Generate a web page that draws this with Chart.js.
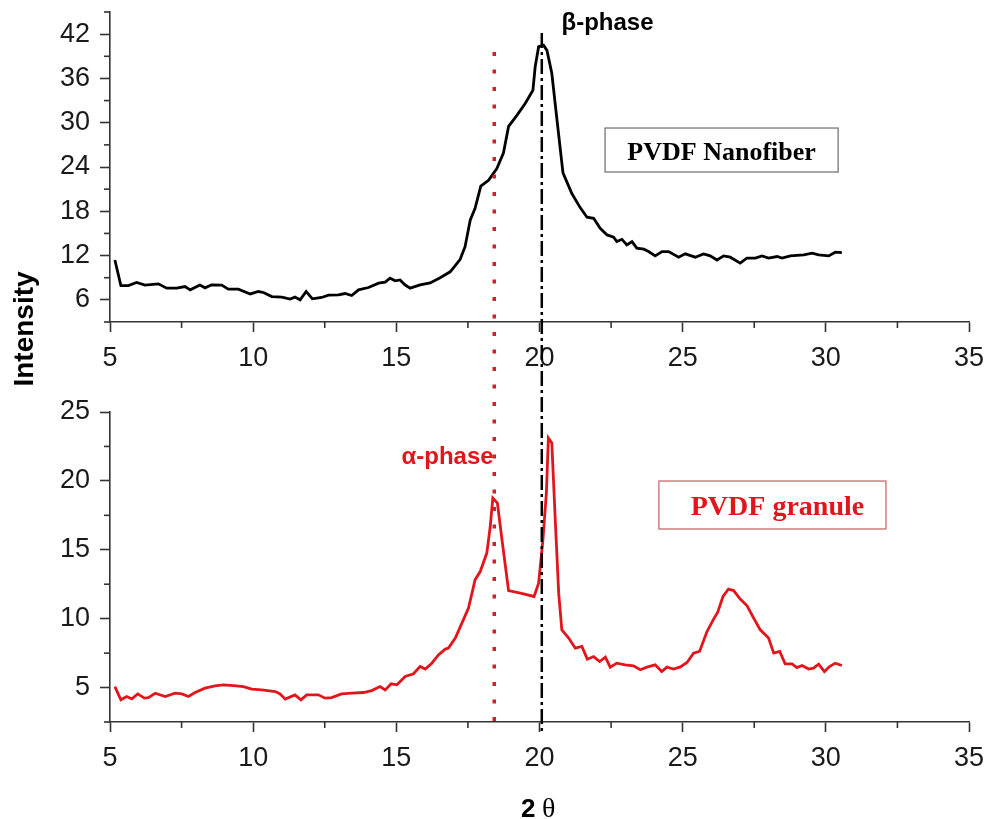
<!DOCTYPE html>
<html><head><meta charset="utf-8">
<script src="https://cdn.jsdelivr.net/npm/chart.js@4.4.1/dist/chart.umd.min.js"></script>
<style>
html,body{margin:0;padding:0;background:#fff;}
#wrap{position:relative;width:988px;height:819px;overflow:hidden;}
canvas{position:absolute;left:0;}
</style>
</head><body>
<div id="wrap">
<canvas id="topChart" width="988" height="400" style="top:0px"></canvas>
<canvas id="botChart" width="988" height="419" style="top:400px"></canvas>
</div>
<script>
// ---------- data ----------
const fiberX = [5.17,5.38,5.64,5.93,6.22,6.69,6.98,7.33,7.62,7.8,8.14,8.32,8.55,8.9,9.13,9.48,9.9,10.18,10.36,10.65,11.0,11.29,11.46,11.64,11.85,12.07,12.39,12.63,12.98,13.21,13.44,13.68,14.03,14.38,14.61,14.78,14.96,15.13,15.3,15.48,15.83,16.18,16.53,16.88,17.05,17.23,17.4,17.58,17.75,17.95,18.22,18.51,18.74,18.92,19.21,19.5,19.77,19.85,19.97,20.14,20.26,20.43,20.61,20.82,21.13,21.42,21.66,21.89,22.12,22.36,22.59,22.7,22.88,23.05,23.23,23.4,23.64,23.81,24.04,24.28,24.51,24.86,25.09,25.44,25.73,25.96,26.2,26.43,26.66,27.01,27.24,27.54,27.77,28.0,28.3,28.47,28.76,29.23,29.52,29.75,30.1,30.33,30.56];
const fiberY = [11.4,7.94,7.94,8.35,8.0,8.17,7.58,7.58,7.8,7.36,8.0,7.63,8.04,8.0,7.45,7.45,6.8,7.13,7.0,6.45,6.37,6.1,6.37,6.0,7.13,6.14,6.32,6.64,6.68,6.86,6.59,7.36,7.67,8.26,8.4,8.94,8.58,8.7,8.04,7.59,8.04,8.3,9.0,9.8,10.6,11.5,13.2,16.8,18.4,21.4,22.2,23.8,25.9,29.5,31.0,32.6,34.4,37.6,40.3,40.5,39.8,36.7,30.4,23.2,20.4,18.5,17.2,17.05,15.7,14.8,14.5,13.9,14.2,13.45,13.9,13.0,12.86,12.54,11.96,12.54,12.54,11.78,12.23,11.78,12.23,11.96,11.4,11.96,11.78,10.97,11.65,11.65,11.96,11.65,11.87,11.65,11.96,12.1,12.32,12.1,11.96,12.46,12.41];
const granuleX = [5.17,5.38,5.58,5.76,5.97,6.2,6.34,6.58,6.93,7.27,7.51,7.74,7.97,8.32,8.67,8.96,9.31,9.66,9.95,10.3,10.77,10.94,11.12,11.46,11.67,11.87,12.28,12.51,12.74,13.09,13.44,13.85,14.14,14.43,14.61,14.82,15.02,15.31,15.6,15.83,16.01,16.24,16.47,16.71,16.82,17.06,17.29,17.52,17.75,17.93,18.16,18.28,18.37,18.53,18.69,18.92,19.33,19.81,19.97,20.12,20.24,20.31,20.43,20.55,20.67,20.78,21.02,21.25,21.48,21.67,21.89,22.1,22.3,22.47,22.7,22.99,23.28,23.52,23.75,24.04,24.27,24.45,24.68,24.92,25.15,25.38,25.59,25.85,26.08,26.22,26.41,26.6,26.78,27.01,27.25,27.48,27.71,28.0,28.18,28.39,28.58,28.82,28.99,29.17,29.4,29.57,29.75,29.95,30.13,30.33,30.56];
const granuleY = [5.07,4.11,4.35,4.18,4.54,4.23,4.27,4.59,4.35,4.59,4.54,4.35,4.64,4.96,5.12,5.2,5.14,5.07,4.88,4.83,4.71,4.54,4.16,4.47,4.11,4.47,4.47,4.23,4.27,4.54,4.59,4.64,4.78,5.07,4.83,5.27,5.2,5.8,6.0,6.53,6.34,6.77,7.37,7.79,7.86,8.59,9.68,10.77,12.82,13.42,14.76,16.7,18.75,18.39,15.73,12.04,11.85,11.61,12.58,15.73,19.12,23.11,22.75,17.18,11.85,9.19,8.59,7.86,7.98,7.06,7.25,6.89,7.2,6.48,6.77,6.65,6.58,6.29,6.48,6.65,6.16,6.48,6.34,6.5,6.82,7.5,7.62,9.07,9.97,10.45,11.61,12.15,12.04,11.42,10.93,10.04,9.19,8.59,7.5,7.62,6.72,6.72,6.45,6.6,6.34,6.41,6.7,6.16,6.52,6.77,6.6];

const xTickLabels = [5,10,15,20,25,30,35];
const fiberTickLabels = [6,12,18,24,30,36,42];
const granuleTickLabels = [5,10,15,20,25];

const alphaPos = 18.42;   // alpha-phase reference line (2θ)
const betaPos = 20.08;    // beta-phase reference line (2θ)

// ---------- style ----------
const AXIS = '#333333';
const RED = '#e3151c';
const DOTRED = '#c3262c';
const SANS = "'Liberation Sans', Arial, sans-serif";
const SERIF = "'Liberation Serif', 'Times New Roman', serif";

const xRange = {min:5, max:35, step:2.5};
const fiberRange = {min:3, max:45, step:3};
const granuleRange = {min:2.5, max:25, step:2.5};

function isLabel(v, list){ return list.some(l => Math.abs(l - v) < 1e-6); }

function axis(range, labels, isX, fitSize){
  return {
    type:'linear', position: isX ? 'bottom' : 'left',
    min: range.min, max: range.max,
    afterFit: s => {
      if (isX) { s.height = fitSize; s.paddingLeft = 0; s.paddingRight = 0; }
      else { s.width = fitSize; s.paddingTop = 0; s.paddingBottom = 0; }
    },
    border:{display:true, color:AXIS, width:1.6},
    grid:{drawOnChartArea:false, drawTicks:true, tickLength:10, tickWidth:1.6,
      tickColor: c => (c.tick && isLabel(c.tick.value, labels)) ? AXIS : 'rgba(0,0,0,0)'},
    ticks:{stepSize:range.step, autoSkip:false, maxRotation:0, minRotation:0,
      padding: 10, color:'#1a1a1a', font:{family:SANS, size:27},
      callback: v => isLabel(v, labels) ? String(v) : ''}
  };
}

function drawMinor(chart, xLabels, yLabels){
  const ctx = chart.ctx, xs = chart.scales.x, ys = chart.scales.y;
  ctx.save();
  ctx.strokeStyle = AXIS; ctx.lineWidth = 1.6; ctx.setLineDash([]);
  xs.ticks.forEach(t => {
    if (isLabel(t.value, xLabels)) return;
    const px = xs.getPixelForValue(t.value);
    ctx.beginPath(); ctx.moveTo(px, xs.top); ctx.lineTo(px, xs.top + 6); ctx.stroke();
  });
  ys.ticks.forEach(t => {
    if (isLabel(t.value, yLabels)) return;
    const py = ys.getPixelForValue(t.value);
    ctx.beginPath(); ctx.moveTo(ys.right, py); ctx.lineTo(ys.right - 6, py); ctx.stroke();
  });
  ctx.restore();
}

let redCarry = 0, blackCarry = 0;
function drawPhaseLines(chart, r0, r1, b0, b1, rOff, bOff){
  const ctx = chart.ctx, xs = chart.scales.x;
  ctx.save();
  ctx.lineCap = 'butt';
  const rx = xs.getPixelForValue(alphaPos);
  ctx.strokeStyle = DOTRED; ctx.lineWidth = 3.5; ctx.setLineDash([4, 13.5]); ctx.lineDashOffset = rOff;
  ctx.beginPath(); ctx.moveTo(rx, r0); ctx.lineTo(rx, r1); ctx.stroke();
  const bx = xs.getPixelForValue(betaPos);
  ctx.strokeStyle = '#000'; ctx.lineWidth = 2.5; ctx.setLineDash([15, 4, 3, 4]); ctx.lineDashOffset = bOff;
  ctx.beginPath(); ctx.moveTo(bx, b0); ctx.lineTo(bx, b1); ctx.stroke();
  ctx.restore();
}

function pts(xs, ys){ return xs.map((x, i) => ({x, y: ys[i]})); }

const topPlugin = {
  id:'topDeco',
  afterDraw(chart){
    const ctx = chart.ctx, xs = chart.scales.x, ys = chart.scales.y;
    drawMinor(chart, xTickLabels, fiberTickLabels);
    const r0 = ys.getPixelForValue(39.58), b0 = ys.getPixelForValue(42.15);
    drawPhaseLines(chart, r0, chart.height, b0, chart.height, 0, 0);
    redCarry = chart.height - r0; blackCarry = chart.height - b0;
    ctx.save();
    ctx.fillStyle = '#000'; ctx.textAlign = 'center'; ctx.textBaseline = 'alphabetic';
    ctx.font = 'bold 24px ' + SANS;
    ctx.fillText('β-phase', xs.getPixelForValue(22.375), ys.getPixelForValue(42.56));
    const x1 = xs.getPixelForValue(22.29), x2 = xs.getPixelForValue(30.43);
    const y1 = ys.getPixelForValue(29.28), y2 = ys.getPixelForValue(23.32);
    ctx.strokeStyle = '#777'; ctx.lineWidth = 1.3;
    ctx.strokeRect(x1, y1, x2 - x1, y2 - y1);
    ctx.font = 'bold 26px ' + SERIF;
    ctx.fillText('PVDF Nanofiber', (x1 + x2) / 2, ys.getPixelForValue(24.95));
    ctx.font = 'bold 28px ' + SANS;
    ctx.translate(33, 329); ctx.rotate(-Math.PI / 2);
    ctx.fillText('Intensity', 0, 0);
    ctx.restore();
  }
};

const botPlugin = {
  id:'botDeco',
  afterDraw(chart){
    const ctx = chart.ctx, xs = chart.scales.x, ys = chart.scales.y;
    drawMinor(chart, xTickLabels, granuleTickLabels);
    drawPhaseLines(chart, 0, ys.getPixelForValue(granuleRange.min), 0, ys.bottom + 11, redCarry, blackCarry);
    ctx.save();
    ctx.textAlign = 'center'; ctx.textBaseline = 'alphabetic';
    ctx.fillStyle = RED; ctx.font = 'bold 24px ' + SANS;
    ctx.fillText('α-phase', xs.getPixelForValue(16.79), ys.getPixelForValue(21.23));
    const x1 = xs.getPixelForValue(24.17), x2 = xs.getPixelForValue(32.10);
    const y1 = ys.getPixelForValue(19.99), y2 = ys.getPixelForValue(16.51);
    ctx.strokeStyle = '#c86b6b'; ctx.lineWidth = 1.3;
    ctx.strokeRect(x1, y1, x2 - x1, y2 - y1);
    ctx.font = 'bold 28px ' + SERIF;
    ctx.fillText('PVDF granule', xs.getPixelForValue(28.31), ys.getPixelForValue(17.52));
    ctx.fillStyle = '#000'; ctx.textAlign = 'left';
    ctx.font = 'bold 26px ' + SANS;
    ctx.fillText('2', 521, 416.5);
    ctx.font = '28px ' + SERIF;
    ctx.fillText('θ', 542, 416.5);
    ctx.restore();
  }
};

function makeChart(id, data, color, yRange, yLabels, padTop, xAxisH, plugin){
  return new Chart(document.getElementById(id), {
    type:'scatter',
    data:{datasets:[{data, showLine:true, borderColor:color, borderWidth:2.8, pointRadius:0, tension:0, fill:false}]},
    options:{
      responsive:false, animation:false, devicePixelRatio:1,
      layout:{padding:{left:0, right:19, top:padTop, bottom:0}},
      plugins:{legend:{display:false}, tooltip:{enabled:false}},
      scales:{ x: axis(xRange, xTickLabels, true, xAxisH), y: axis(yRange, yLabels, false, 110) }
    },
    plugins:[plugin]
  });
}

makeChart('topChart', pts(fiberX, fiberY), '#000', fiberRange, fiberTickLabels, 12, 78, topPlugin);
makeChart('botChart', pts(granuleX, granuleY), RED, granuleRange, granuleTickLabels, 12, 97, botPlugin);
</script>
</body></html>
